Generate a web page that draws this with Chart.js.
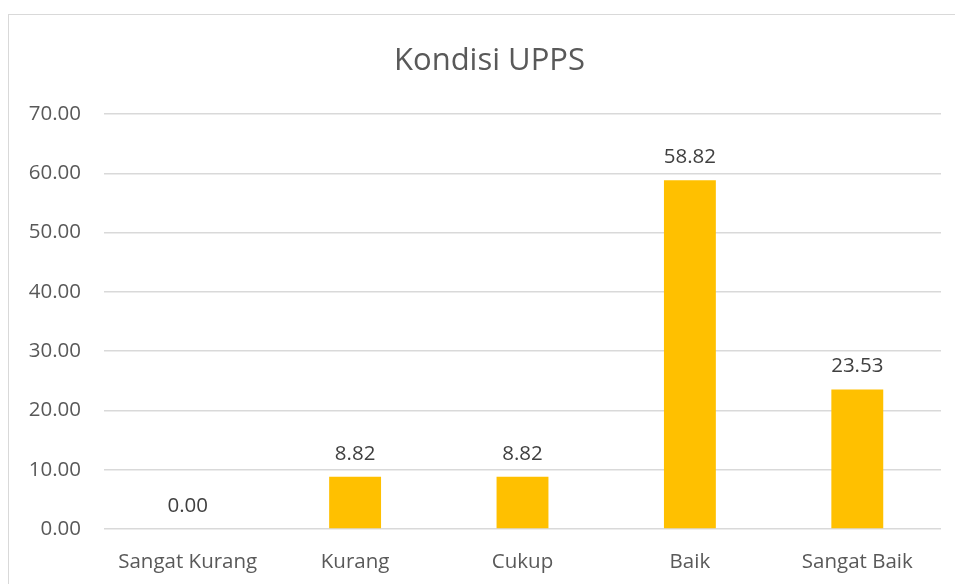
<!DOCTYPE html>
<html>
<head>
<meta charset="utf-8">
<script src="https://cdn.jsdelivr.net/npm/chart.js@4"></script>
<style>
  html, body { margin: 0; background: #fff; overflow: hidden; }
  #box { position: absolute; left: 8px; top: 14px; width: 975px; height: 600px;
         border: 1px solid #d9d9d9; box-sizing: border-box; }
  #chart { position: absolute; left: 0; top: 0; }
</style>
</head>
<body>
<div id="box"><canvas id="chart" width="961" height="570"></canvas></div>
<script>
const categories = ["Sangat Kurang", "Kurang", "Cukup", "Baik", "Sangat Baik"];
const values = [0.00, 8.82, 8.82, 58.82, 23.53];
const titleText = "Kondisi UPPS";

// ===== VALUE LABELS ABOVE BARS =====
const valueLabels = {
    id: 'valueLabels',
    afterDatasetsDraw(chart) {
        const ctx = chart.ctx;
        const meta = chart.getDatasetMeta(0);
        ctx.save();
        ctx.font = '20.5px "Open Sans"';
        ctx.fillStyle = '#404040';
        ctx.textAlign = 'center';
        ctx.textBaseline = 'middle';
        meta.data.forEach((bar, i) => {
            ctx.fillText(values[i].toFixed(2), bar.x, bar.y - 23);
        });
        ctx.restore();
    }
};

new Chart(document.getElementById("chart"), {
    type: 'bar',
    data: {
        labels: categories,
        datasets: [{
            data: values,
            backgroundColor: '#FFC000',
            barPercentage: 0.31,
            categoryPercentage: 1
        }]
    },
    options: {
        responsive: false,
        animation: false,
        layout: { padding: 0 },
        plugins: {
            legend: { display: false },
            tooltip: { enabled: false },
            title: {
                display: true,
                text: titleText,
                color: '#595959',
                font: { family: 'Open Sans', size: 31, weight: 'normal' },
                padding: { top: 27.4, bottom: 34.4 }
            }
        },
        scales: {
            x: {
                grid: { display: false, drawTicks: false },
                border: { display: false },
                ticks: { color: '#595959', padding: 21, font: { family: 'Open Sans', size: 20.5 } },
                afterFit(scale) { scale.height = 56; }
            },
            y: {
                min: 0,
                max: 70,
                grid: { color: '#d9d9d9', lineWidth: 1.5, drawTicks: false },
                border: { display: false },
                ticks: {
                    stepSize: 10,
                    color: '#595959',
                    padding: 23,
                    font: { family: 'Open Sans', size: 20.5 },
                    callback: v => v.toFixed(2)
                },
                afterFit(scale) { scale.width = 95; }
            },
            // empty right margin so the title centres on the whole chart
            yRight: {
                type: 'linear',
                position: 'right',
                grid: { display: false, drawTicks: false },
                border: { display: false },
                ticks: { display: false },
                afterFit(scale) { scale.width = 29; }
            }
        }
    },
    plugins: [valueLabels]
});
</script>
</body>
</html>
